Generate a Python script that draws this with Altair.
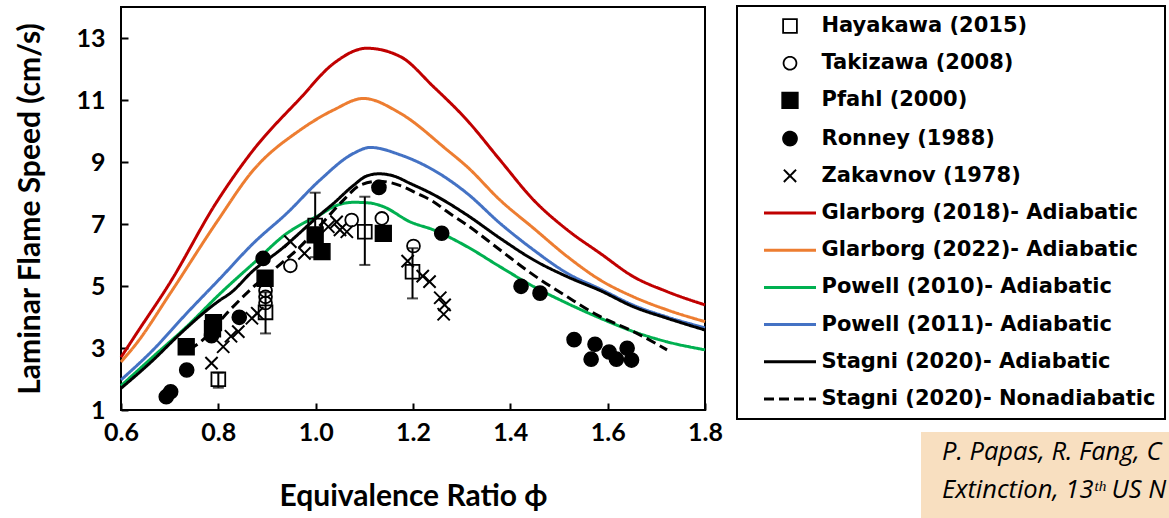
import altair as alt
import pandas as pd

# ---------------- series names (legend order) ----------------
series_order = [
    "Hayakawa (2015)", "Takizawa (2008)", "Pfahl (2000)", "Ronney (1988)", "Zakavnov (1978)",
    "Glarborg (2018)- Adiabatic", "Glarborg (2022)- Adiabatic", "Powell (2010)- Adiabatic",
    "Powell (2011)- Adiabatic", "Stagni (2020)- Adiabatic", "Stagni (2020)- Nonadiabatic",
]

# ---------------- experimental data ----------------
hayakawa_phi = [0.800, 0.897, 0.999, 1.101, 1.199]
hayakawa_s = [1.99, 4.15, 6.95, 6.75, 5.46]
takizawa_phi = [0.897, 0.897, 0.897, 0.948, 1.074, 1.136, 1.201]
takizawa_s = [4.45, 4.65, 4.85, 5.65, 7.13, 7.18, 6.29]
pfahl_phi = [0.734, 0.788, 0.790, 0.896, 0.999, 1.013, 1.139]
pfahl_s = [3.04, 3.62, 3.82, 5.25, 6.65, 6.11, 6.70]
ronney_phi = [0.693, 0.702, 0.735, 0.786, 0.843, 0.892, 1.130, 1.259, 1.422, 1.461,
              1.531, 1.566, 1.574, 1.603, 1.618, 1.640, 1.649]
ronney_s = [1.43, 1.59, 2.29, 3.40, 3.99, 5.89, 8.18, 6.70, 4.99, 4.77,
            3.27, 2.64, 3.12, 2.87, 2.64, 2.99, 2.61]
zak_phi = [0.786, 0.810, 0.826, 0.841, 0.869, 0.880, 0.948, 0.977, 1.026, 1.043, 1.050,
           1.064, 1.189, 1.220, 1.234, 1.256, 1.265, 1.263]
zak_s = [2.51, 3.04, 3.38, 3.53, 3.96, 4.12, 6.43, 6.05, 6.91, 7.07, 6.81,
         6.75, 5.80, 5.32, 5.14, 4.62, 4.39, 4.09]

# error bars (Hayakawa)
eb_phi = [0.800, 0.897, 0.999, 1.101, 1.199]
eb_lo = [1.72, 3.47, 5.93, 5.68, 4.60]
eb_hi = [2.20, 4.80, 8.01, 7.88, 6.22]

# ---------------- model curves ----------------
glar18_phi = [0.6, 0.632, 0.70, 0.797, 0.872, 0.968, 1.037, 1.105, 1.174, 1.242, 1.311,
              1.379, 1.448, 1.517, 1.585, 1.653, 1.722, 1.8]
glar18_s = [2.70, 3.47, 5.09, 7.72, 9.39, 11.05, 12.18, 12.67, 12.40, 11.43, 10.35,
            9.06, 7.77, 6.81, 6.05, 5.30, 4.82, 4.39]
glar22_phi = [0.6, 0.632, 0.701, 0.797, 0.872, 0.968, 1.037, 1.098, 1.174, 1.27, 1.311,
              1.379, 1.448, 1.517, 1.585, 1.653, 1.722, 1.8]
glar22_s = [2.55, 3.15, 4.76, 7.07, 8.74, 10.03, 10.68, 11.05, 10.57, 9.39, 8.85,
            7.77, 6.86, 5.95, 5.19, 4.65, 4.23, 3.85]
pow10_phi = [0.6, 0.666, 0.735, 0.804, 0.872, 0.941, 0.968, 1.009, 1.037, 1.078, 1.11,
             1.139, 1.194, 1.242, 1.311, 1.379, 1.448, 1.517, 1.585, 1.653, 1.722, 1.8]
pow10_s = [1.78, 2.72, 3.69, 4.76, 5.73, 6.70, 6.97, 7.30, 7.56, 7.70, 7.68,
           7.56, 7.07, 6.81, 6.27, 5.62, 4.98, 4.44, 3.96, 3.53, 3.20, 2.94]
pow11_phi = [0.6, 0.666, 0.735, 0.804, 0.872, 0.941, 1.009, 1.078, 1.112, 1.174, 1.242,
             1.311, 1.379, 1.448, 1.517, 1.585, 1.653, 1.722, 1.8]
pow11_s = [1.97, 2.94, 4.12, 5.25, 6.38, 7.35, 8.42, 9.28, 9.47, 9.23, 8.74,
           7.99, 7.02, 6.16, 5.41, 4.90, 4.38, 4.00, 3.65]
stag_ad_phi = [0.6, 0.666, 0.721, 0.804, 0.824, 0.872, 0.927, 1.009, 1.037, 1.078, 1.105,
               1.13, 1.16, 1.194, 1.242, 1.311, 1.379, 1.448, 1.517, 1.585, 1.653, 1.722, 1.8]
stag_ad_s = [1.70, 2.61, 3.45, 4.55, 4.76, 5.50, 6.16, 7.30, 7.67, 8.25, 8.55,
             8.62, 8.55, 8.31, 7.95, 7.29, 6.54, 5.84, 5.30, 4.85, 4.33, 3.96, 3.58]
stag_na_phi = [0.74, 0.762, 0.824, 0.865, 0.927, 0.961, 1.009, 1.057, 1.091, 1.13, 1.174,
               1.208, 1.242, 1.27, 1.311, 1.379, 1.448, 1.517, 1.585, 1.653, 1.722]
stag_na_s = [2.95, 3.18, 4.23, 4.87, 5.70, 6.16, 6.95, 7.77, 8.25, 8.38, 8.24,
             7.99, 7.72, 7.40, 6.97, 6.16, 5.35, 4.65, 4.01, 3.53, 2.94]

x_ticks = [0.6, 0.8, 1.0, 1.2, 1.4, 1.6, 1.8]
y_ticks = [1, 3, 5, 7, 9, 11, 13]

# ---------------- build tables ----------------
pts = []
for name, px, py in [
    (series_order[0], hayakawa_phi, hayakawa_s),
    (series_order[1], takizawa_phi, takizawa_s),
    (series_order[2], pfahl_phi, pfahl_s),
    (series_order[3], ronney_phi, ronney_s),
    (series_order[4], zak_phi, zak_s),
]:
    for a, b in zip(px, py):
        pts.append({"series": name, "phi": a, "s": b})
pts = pd.DataFrame(pts)

lines = []
for name, px, py in [
    (series_order[5], glar18_phi, glar18_s),
    (series_order[6], glar22_phi, glar22_s),
    (series_order[7], pow10_phi, pow10_s),
    (series_order[8], pow11_phi, pow11_s),
    (series_order[9], stag_ad_phi, stag_ad_s),
    (series_order[10], stag_na_phi, stag_na_s),
]:
    for i, (a, b) in enumerate(zip(px, py)):
        lines.append({"series": name, "phi": a, "s": b, "i": i})
lines = pd.DataFrame(lines)

ebars = pd.DataFrame({"phi": eb_phi, "lo": eb_lo, "hi": eb_hi})

# ---------------- scales ----------------
xcross = "M-1,-1L1,1M-1,1L1,-1"
hline = "M-4,0L4,0"
shape_scale = alt.Scale(domain=series_order,
                        range=["square", "circle", "square", "circle", xcross] + [hline] * 6)
fill_scale = alt.Scale(domain=series_order,
                       range=["transparent", "transparent", "black", "black", "transparent"] + ["transparent"] * 6)
stroke_scale = alt.Scale(domain=series_order,
                         range=["black"] * 5 + ["#C00000", "#ED7D31", "#00B050", "#4472C4", "black", "black"])
size_scale = alt.Scale(type="ordinal", domain=series_order,
                       range=[190, 165, 250, 200, 150] + [169] * 6)
sw_scale = alt.Scale(type="ordinal", domain=series_order,
                     range=[1.8, 1.8, 1.5, 1.5, 2] + [3] * 6)
dash_scale = alt.Scale(domain=series_order,
                       range=[[1, 0]] * 10 + [[10, 5]])

leg = alt.Legend(title=None, orient="none", legendX=616, legendY=-1)

x_enc = alt.X("phi:Q", scale=alt.Scale(domain=[0.6, 1.8], nice=False),
              axis=alt.Axis(values=x_ticks, format=".1f", title="Equivalence Ratio ϕ",
                            offset=-7, tickSize=7, labelPadding=10, titlePadding=36,
                            labelFlush=False))
y_enc = alt.Y("s:Q", scale=alt.Scale(domain=[1, 14], nice=False),
              axis=alt.Axis(values=y_ticks, title="Laminar Flame Speed (cm/s)",
                            offset=-7, tickSize=7, labelPadding=16, titlePadding=30,
                            labelFlush=False))

line_layer = alt.Chart(lines).mark_line(interpolate="monotone", opacity=1).encode(
    x=x_enc, y=y_enc,
    detail="series:N",
    order="i:Q",
    stroke=alt.Stroke("series:N", scale=stroke_scale, legend=leg),
    strokeDash=alt.StrokeDash("series:N", scale=dash_scale, legend=leg),
    strokeWidth=alt.StrokeWidth("series:N", scale=sw_scale, legend=leg),
)

point_layer = alt.Chart(pts).mark_point(filled=True, opacity=1).encode(
    x=x_enc, y=y_enc,
    shape=alt.Shape("series:N", scale=shape_scale, legend=leg),
    fill=alt.Fill("series:N", scale=fill_scale, legend=leg),
    stroke=alt.Stroke("series:N", scale=stroke_scale, legend=leg),
    size=alt.Size("series:N", scale=size_scale, legend=leg),
    strokeWidth=alt.StrokeWidth("series:N", scale=sw_scale, legend=leg),
)

eb_rule = alt.Chart(ebars).mark_rule(color="black", strokeWidth=2).encode(
    x="phi:Q", y="lo:Q", y2="hi:Q")
eb_lo_tick = alt.Chart(ebars).mark_tick(color="black", orient="horizontal", size=11, thickness=2).encode(
    x="phi:Q", y="lo:Q")
eb_hi_tick = alt.Chart(ebars).mark_tick(color="black", orient="horizontal", size=11, thickness=2).encode(
    x="phi:Q", y="hi:Q")

note = pd.DataFrame({"k": [0]})
note_box = alt.Chart(note).mark_rect(color="#F8DFC0").encode(
    x=alt.value(800), x2=alt.value(1100), y=alt.value(425), y2=alt.value(530))
note_t1 = alt.Chart(note).mark_text(align="left", baseline="alphabetic", font="Open Sans",
                                    fontStyle="italic", fontSize=25.5, color="black",
                                    text="P. Papas, R. Fang, C").encode(
    x=alt.value(821), y=alt.value(453))
note_t2 = alt.Chart(note).mark_text(align="left", baseline="alphabetic", font="Open Sans",
                                    fontStyle="italic", fontSize=25.5, color="black",
                                    text="Extinction, 13ᵗʰ US N").encode(
    x=alt.value(821), y=alt.value(491))

chart = alt.layer(
    line_layer, point_layer, eb_rule, eb_lo_tick, eb_hi_tick, note_box, note_t1, note_t2
).resolve_scale(
    stroke="shared"
).properties(
    width=584, height=403,
    autosize=alt.AutoSizeParams(type="none"),
    padding={"left": 121, "top": 7, "right": 464, "bottom": 108},
).configure_view(
    stroke="black", strokeWidth=2
).configure_axis(
    grid=False, domain=False, tickColor="black", tickWidth=2,
    labelFont="Lato", labelFontWeight="bold", labelFontSize=25, labelColor="black",
    titleFont="Lato", titleFontWeight="bold", titleFontSize=30, titleColor="black",
).configure_legend(
    strokeColor="black", strokeWidth=2, padding=9.5, rowPadding=15.2,
    symbolOffset=33, labelOffset=21, labelLimit=600,
    labelFont="DejaVu Sans", labelFontWeight="bold", labelFontSize=21, labelColor="black",
    fillColor="white",
)

chart.save("out.html", embed_options={"renderer": "svg", "actions": False})
